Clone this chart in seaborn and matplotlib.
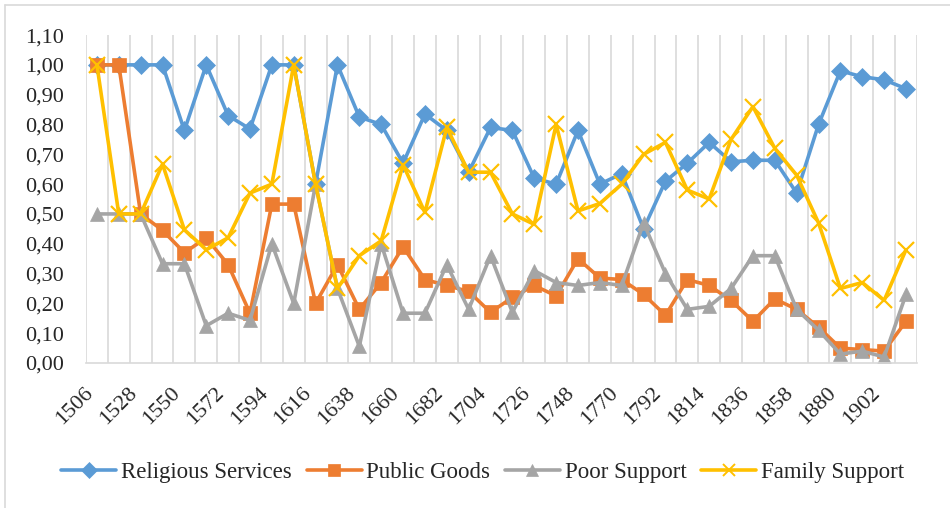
import pandas as pd
import numpy as np
import matplotlib
matplotlib.use("Agg")
import matplotlib.pyplot as plt
from matplotlib.lines import Line2D
from matplotlib.ticker import FuncFormatter, FixedLocator
import seaborn as sns

# categories (every 11 years)
years = [1506, 1517, 1528, 1539, 1550, 1561, 1572, 1583, 1594, 1605,
         1616, 1627, 1638, 1649, 1660, 1671, 1682, 1693, 1704, 1715,
         1726, 1737, 1748, 1759, 1770, 1781, 1792, 1803, 1814, 1825,
         1836, 1847, 1858, 1869, 1880, 1891, 1902, 1913]

religious = [1.00, 1.00, 1.00, 1.00, 0.78, 1.00, 0.83, 0.785, 1.00, 1.00,
             0.60, 1.00, 0.825, 0.80, 0.67, 0.835, 0.78, 0.64, 0.79, 0.78,
             0.62, 0.60, 0.78, 0.60, 0.635, 0.45, 0.61, 0.67, 0.74, 0.675,
             0.68, 0.68, 0.57, 0.80, 0.98, 0.96, 0.95, 0.92]

public = [1.00, 1.00, 0.50, 0.445, 0.37, 0.42, 0.33, 0.167, 0.533, 0.533,
          0.20, 0.33, 0.18, 0.27, 0.39, 0.28, 0.26, 0.24, 0.17, 0.22,
          0.26, 0.225, 0.35, 0.285, 0.28, 0.23, 0.16, 0.28, 0.26, 0.21,
          0.14, 0.215, 0.18, 0.12, 0.05, 0.045, 0.04, 0.14]

poor = [0.50, 0.50, 0.50, 0.333, 0.333, 0.125, 0.167, 0.143, 0.40, 0.20,
        0.60, 0.25, 0.056, 0.40, 0.167, 0.167, 0.33, 0.18, 0.36, 0.17,
        0.31, 0.27, 0.26, 0.27, 0.26, 0.47, 0.30, 0.18, 0.19, 0.25,
        0.36, 0.36, 0.18, 0.11, 0.03, 0.04, 0.02, 0.23]

family = [1.00, 0.50, 0.50, 0.667, 0.447, 0.38, 0.42, 0.57, 0.60, 1.00,
          0.60, 0.25, 0.36, 0.41, 0.665, 0.505, 0.79, 0.64, 0.64, 0.50,
          0.465, 0.80, 0.51, 0.535, 0.60, 0.70, 0.74, 0.58, 0.55, 0.75,
          0.86, 0.72, 0.63, 0.47, 0.25, 0.27, 0.21, 0.38]

series_names = ["Religious Services", "Public Goods", "Poor Support", "Family Support"]
colors = ["#5B9BD5", "#ED7D31", "#A5A5A5", "#FFC000"]
marker_list = ["D", "s", "^", "x"]

# long-form table for seaborn
frames = []
for name, vals in zip(series_names, [religious, public, poor, family]):
    frames.append(pd.DataFrame({"pos": range(len(years)), "year": years,
                                "value": vals, "series": name}))
df = pd.concat(frames, ignore_index=True)

sns.set_style("white")
plt.rcParams["font.family"] = ["Liberation Serif", "DejaVu Serif"]

fig = plt.figure(figsize=(9.5, 5.08), dpi=100)
ax = fig.add_axes([0.0905, 0.2854, 0.8747, 0.6456])

# one call per series: excel mixes filled and line-art markers
for name, c, m in zip(series_names, colors, marker_list):
    sub = df[df["series"] == name]
    if m == "x":
        msize, mew = 12, 1.6
    elif m == "D":
        msize, mew = 9, 0.5
    else:
        msize, mew = 10, 0.5
    sns.lineplot(data=sub, x="pos", y="value", color=c, marker=m,
                 markersize=msize, markeredgecolor=c, markerfacecolor=c,
                 markeredgewidth=mew, linewidth=2.6, label=name,
                 legend=False, ax=ax)

ax.set_xlim(-0.5, len(years) - 0.5)
ax.set_ylim(0, 1.1)
ax.set_yticks(np.arange(0, 1.11, 0.1))
ax.yaxis.set_major_formatter(FuncFormatter(lambda v, p: f"{v:.2f}".replace(".", ",")))

label_pos = list(range(0, len(years), 2))
ax.set_xticks(label_pos)
ax.set_xticklabels([str(years[i]) for i in label_pos], rotation=45,
                   ha="right", va="top")
ax.xaxis.set_minor_locator(FixedLocator(np.arange(-0.5, len(years), 1.0)))
ax.grid(False)
ax.grid(True, which="minor", axis="x", color="#D9D9D9", linewidth=1.2)
ax.tick_params(axis="both", which="both", length=0, labelsize=16, colors="#262626")
ax.tick_params(axis="y", pad=16)
ax.tick_params(axis="x", pad=15)
ax.set_xlabel("")
ax.set_ylabel("")

for side in ["top", "right", "left"]:
    ax.spines[side].set_visible(False)
ax.spines["bottom"].set_color("#D9D9D9")
ax.spines["bottom"].set_linewidth(1.2)

# legend with smaller markers, like excel
handles = []
for c, m in zip(colors, marker_list):
    handles.append(Line2D([], [], color=c, linewidth=2.6, marker=m,
                          markersize=8 if m != "x" else 9,
                          markeredgecolor=c, markerfacecolor=c,
                          markeredgewidth=1.4 if m == "x" else 0.5))
fig.legend(handles=handles, labels=series_names, loc="center",
           bbox_to_anchor=(0.508, 0.069), ncol=4, frameon=False,
           fontsize=16.5, handlelength=2.4, columnspacing=0.65,
           handletextpad=0.2, borderaxespad=0, borderpad=0)

# light frame around the chart area (top and left edges visible)
fig.add_artist(Line2D([5 / 950, 5 / 950], [0, 1 - 5 / 508], transform=fig.transFigure,
                      color="#D9D9D9", linewidth=1.2))
fig.add_artist(Line2D([5 / 950, 1], [1 - 5 / 508, 1 - 5 / 508], transform=fig.transFigure,
                      color="#D9D9D9", linewidth=1.2))

fig.savefig("out.png", dpi=100)
